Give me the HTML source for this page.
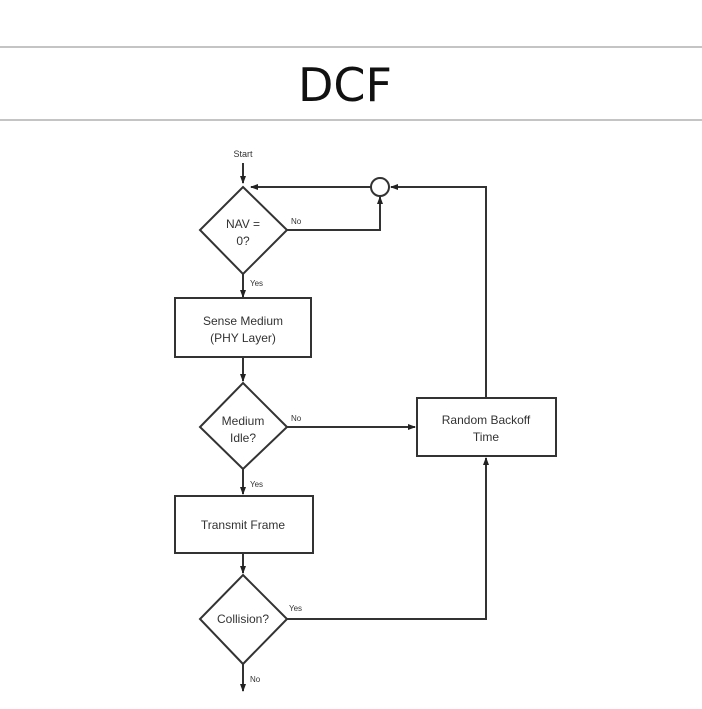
<!DOCTYPE html>
<html><head><style>
body{margin:0;background:#fff;width:702px;height:709px;overflow:hidden}
svg{display:block}
</style></head><body>
<svg width="702" height="709" viewBox="0 0 702 709" xmlns="http://www.w3.org/2000/svg">
<defs><marker id="a" markerWidth="8" markerHeight="8" refX="7" refY="4" orient="auto" markerUnits="userSpaceOnUse"><path d="M0,1 L8,4 L0,7 Z" fill="#222"/></marker></defs>
<line x1="0" y1="47" x2="702" y2="47" stroke="#888" stroke-width="1"/>
<line x1="0" y1="120" x2="702" y2="120" stroke="#888" stroke-width="1"/>
<text x="345" y="101" font-family="DejaVu Sans, sans-serif" font-size="46" text-anchor="middle" fill="#111">DCF</text>
<g stroke="#333" stroke-width="2" fill="none" font-family="Liberation Sans, sans-serif">
<line x1="243" y1="163" x2="243" y2="183" marker-end="url(#a)"/>
<polygon points="243,187 287,230 243,274 200,230" fill="#fff"/>
<circle cx="380" cy="187" r="9" fill="#fff"/>
<line x1="371" y1="187" x2="251" y2="187" marker-end="url(#a)"/>
<polyline points="287,230 380,230 380,197" marker-end="url(#a)"/>
<line x1="243" y1="274" x2="243" y2="297" marker-end="url(#a)"/>
<rect x="175" y="298" width="136" height="59" fill="#fff"/>
<line x1="243" y1="357" x2="243" y2="381" marker-end="url(#a)"/>
<polygon points="243,383 287,427 243,469 200,427" fill="#fff"/>
<line x1="287" y1="427" x2="415" y2="427" marker-end="url(#a)"/>
<rect x="417" y="398" width="139" height="58" fill="#fff"/>
<polyline points="486,398 486,187 391,187" marker-end="url(#a)"/>
<line x1="243" y1="469" x2="243" y2="494" marker-end="url(#a)"/>
<rect x="175" y="496" width="138" height="57" fill="#fff"/>
<line x1="243" y1="553" x2="243" y2="573" marker-end="url(#a)"/>
<polygon points="243,575 287,619 243,664 200,619" fill="#fff"/>
<polyline points="287,619 486,619 486,458" marker-end="url(#a)"/>
<line x1="243" y1="664" x2="243" y2="691" marker-end="url(#a)"/>
</g>
<g font-family="Liberation Sans, sans-serif" fill="#333" text-anchor="middle" font-size="12">
<text x="243" y="157" font-size="9">Start</text>
<text x="243" y="228">NAV =</text>
<text x="243" y="245">0?</text>
<text x="243" y="325">Sense Medium</text>
<text x="243" y="342">(PHY Layer)</text>
<text x="243" y="425">Medium</text>
<text x="243" y="442">Idle?</text>
<text x="486" y="424">Random Backoff</text>
<text x="486" y="441">Time</text>
<text x="243" y="529">Transmit Frame</text>
<text x="243" y="623">Collision?</text>
</g>
<g font-family="Liberation Sans, sans-serif" fill="#333" font-size="8">
<text x="291" y="224">No</text>
<text x="250" y="286">Yes</text>
<text x="291" y="421">No</text>
<text x="250" y="487">Yes</text>
<text x="289" y="611">Yes</text>
<text x="250" y="682">No</text>
</g>
</svg>
</body></html>
